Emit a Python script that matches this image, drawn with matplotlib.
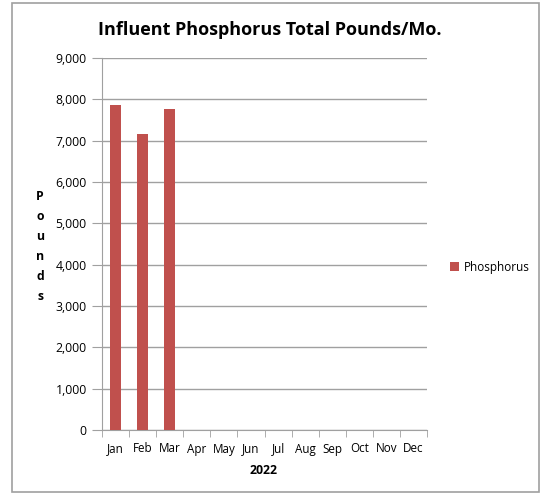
import matplotlib.pyplot as plt
from matplotlib.patches import Rectangle

months = ['Jan', 'Feb', 'Mar', 'Apr', 'May', 'Jun', 'Jul', 'Aug', 'Sep', 'Oct', 'Nov', 'Dec']
phosphorus = [7860, 7160, 7760, 0, 0, 0, 0, 0, 0, 0, 0, 0]
y_ticks = [0, 1000, 2000, 3000, 4000, 5000, 6000, 7000, 8000, 9000]

plt.rcParams['font.family'] = ['Open Sans', 'DejaVu Sans']

fig = plt.figure(figsize=(5.4, 4.95), dpi=100)
W, H = 540, 495

# outer chart frame
fig.patches.append(Rectangle((12 / W, 3 / H), 527 / W, 489 / H, transform=fig.transFigure,
                             fill=False, edgecolor='#a0a0a0', linewidth=1.2))

ax = fig.add_axes([102 / W, 1 - 430 / H, 325 / W, 372 / H])
x = list(range(len(months)))
ax.bar(x, phosphorus, width=0.42, color='#c0504d', label='Phosphorus', zorder=3)

ax.set_xlim(-0.5, len(months) - 0.5)
ax.set_ylim(0, 9000)
ax.set_yticks(y_ticks)
ax.set_yticklabels([f'{v:,}' for v in y_ticks], fontsize=8.8)
ax.set_xticks(x)
ax.set_xticklabels(months, fontsize=8.4)
ax.set_xticks([i - 0.5 for i in range(len(months) + 1)], minor=True)
ax.tick_params(axis='x', which='major', length=0, pad=9)
ax.tick_params(axis='x', which='minor', length=5, color='#a0a0a0')
ax.tick_params(axis='y', length=7, color='#a0a0a0', pad=4)
ax.grid(axis='y', color='#a0a0a0', linewidth=1, zorder=0)
for s in ['top', 'right']:
    ax.spines[s].set_visible(False)
for s in ['left', 'bottom']:
    ax.spines[s].set_color('#a0a0a0')

fig.text(270 / W, 1 - 30 / H, 'Influent Phosphorus Total Pounds/Mo.', ha='center', va='center',
         fontsize=13, fontweight='bold')
fig.text(264 / W, 1 - 470 / H, '2022', ha='center', va='center', fontsize=8.8, fontweight='bold')

for i, ch in enumerate('Pounds'):
    fig.text(40 / W, 1 - (197 + i * 20) / H, ch, ha='center', va='center', fontsize=8.8, fontweight='bold')

ax.legend(loc='center left', bbox_to_anchor=(439 / W, 1 - 267 / H), bbox_transform=fig.transFigure,
          frameon=False, fontsize=8.5, handlelength=0.8, handleheight=0.8, handletextpad=0.4)

fig.savefig('out.png', dpi=100)
